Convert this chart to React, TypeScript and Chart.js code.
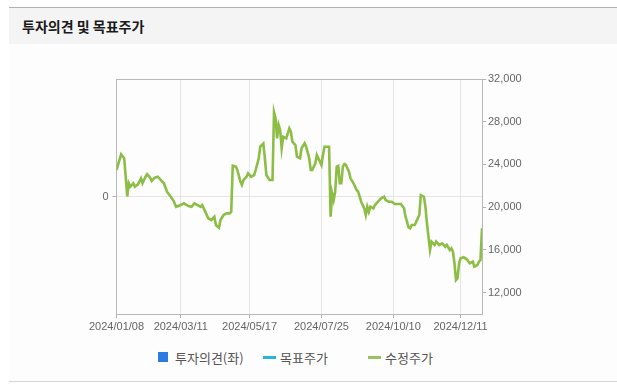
import React, { useEffect, useRef } from "react";
import { Chart, registerables } from "chart.js";

Chart.register(...registerables);

// trading-day index (0 = 2024/01/08, 239 = last trading day of 2024)
const dayIndex = [
  0, 3, 5, 6, 7, 8, 9, 11, 12, 14, 16, 17, 19, 20, 22, 23, 25, 27, 29, 31, 33, 35, 37, 39, 42, 44, 47, 49,
  51, 53, 55, 56, 58, 60, 62, 64, 65, 67, 68, 70, 72, 74, 75, 76, 78, 79, 81, 82, 83, 85, 86, 88, 90, 91,
  93, 94, 96, 97, 98, 100, 102, 103, 104, 105, 106, 107, 108, 109, 111, 113, 114, 115, 117, 118, 120,
  121, 123, 124, 126, 127, 128, 130, 131, 133, 134, 135, 136, 139, 140, 141, 142, 143, 144, 145, 146,
  147, 148, 149, 150, 152, 153, 155, 157, 158, 159, 160, 162, 163, 164, 165, 166, 168, 169, 171, 173,
  175, 176, 178, 180, 182, 184, 186, 188, 189, 191, 192, 193, 195, 196, 197, 198, 199, 201, 202, 203,
  204, 205, 206, 208, 209, 211, 213, 215, 216, 218, 219, 220, 221, 222, 223, 224, 225, 227, 229, 231,
  233, 234, 236, 237, 238, 239,
];

// 수정주가 (adjusted price, KRW)
const adjPrice = [
  23500, 24950, 24580, 22850, 21000, 22240, 21920, 22240, 21920, 22140, 22700, 22240, 22850, 23080, 22760,
  22450, 22760, 22850, 22540, 22240, 21450, 21080, 20670, 20040, 20200, 20360, 20100, 20040, 20360, 20200,
  20040, 20200, 19580, 18960, 18800, 19110, 18330, 18080, 18800, 19270, 19420, 19420, 19580, 23890, 23800,
  23480, 22390, 22080, 22540, 22850, 23170, 22850, 23010, 23480, 24580, 25660, 25950, 24580, 23010, 22540,
  22540, 28880, 28320, 26450, 27700, 27230, 25510, 26600, 26450, 27380, 27070, 26130, 25820, 24730, 24580,
  25510, 25980, 25660, 24580, 23480, 23480, 24110, 24890, 24260, 23950, 24890, 25660, 25660, 19110, 21300,
  20670, 21450, 23790, 23860, 22240, 22240, 23790, 24040, 23950, 23320, 22700, 22240, 21610, 21450, 20980,
  20510, 19890, 19270, 20050, 19580, 20050, 19890, 20200, 20510, 20830, 20980, 20670, 20510, 20510, 20300,
  20300, 20300, 19890, 19110, 18100, 18020, 18330, 18330, 18640, 18960, 19270, 21140, 20980, 20050, 18490,
  17240, 15990, 16770, 16460, 16770, 16460, 16620, 16300, 16460, 15990, 16150, 15830, 14750, 13180, 13340,
  14750, 15210, 15310, 15120, 14750, 14900, 14430, 14590, 14900, 15060, 18020,
];

// 투자의견 / 목표주가 : no values in this period
const opinion: number[] = [];
const targetPrice: number[] = [];

const xTickDays = [0, 42, 87, 134, 181, 225];
const xTickLabels = ["2024/01/08", "2024/03/11", "2024/05/17", "2024/07/25", "2024/10/10", "2024/12/11"];
const priceTicks = [12000, 16000, 20000, 24000, 28000, 32000];
const opinionTicks = [0];

const legendItems = [
  { label: "투자의견(좌)", color: "#2b7be0", kind: "box", left: 158 },
  { label: "목표주가", color: "#27b5d8", kind: "line", left: 263 },
  { label: "수정주가", color: "#9cc064", kind: "line", left: 368 },
];

const FONT = "'Liberation Sans', Arial, sans-serif";
const KFONT = "'Noto Sans CJK KR', 'Noto Sans', sans-serif";

const frame = {
  id: "frameTop",
  afterDraw(chart: any) {
    const { ctx, chartArea } = chart;
    ctx.save();
    ctx.strokeStyle = "#b8b8b8";
    ctx.lineWidth = 1;
    ctx.beginPath();
    ctx.moveTo(chartArea.left, Math.round(chartArea.top) + 0.5);
    ctx.lineTo(chartArea.right, Math.round(chartArea.top) + 0.5);
    ctx.stroke();
    ctx.restore();
  },
};

export default function App() {
  const ref = useRef<HTMLCanvasElement>(null);

  useEffect(() => {
    if (!ref.current) return;
    const chart = new Chart(ref.current, {
      data: {
        datasets: [
          {
            type: "bar",
            label: "투자의견(좌)",
            data: opinion,
            backgroundColor: "#2b7be0",
            yAxisID: "y",
          },
          {
            type: "line",
            label: "목표주가",
            data: targetPrice,
            borderColor: "#27b5d8",
            yAxisID: "y1",
          },
          {
            type: "line",
            label: "수정주가",
            data: dayIndex.map((d, i) => ({ x: d, y: adjPrice[i] })),
            borderColor: "#8cbd44",
            borderWidth: 2.6,
            pointRadius: 0,
            tension: 0,
            yAxisID: "y1",
          },
        ],
      } as any,
      options: {
        responsive: false,
        animation: false,
        devicePixelRatio: 1,
        layout: { padding: { top: 35, left: 0, right: 0, bottom: 0 } },
        plugins: { legend: { display: false }, tooltip: { enabled: false } },
        scales: {
          x: {
            type: "linear",
            position: "bottom",
            offset: false,
            min: 0,
            max: 239,
            afterBuildTicks: (s: any) => {
              s.ticks = xTickDays.map((v) => ({ value: v }));
            },
            afterFit: (s: any) => {
              s.height = 30;
            },
            ticks: {
              autoSkip: false,
              maxRotation: 0,
              padding: 2,
              color: "#666",
              font: { family: FONT, size: 11 },
              callback: (v: any) => {
                const i = xTickDays.indexOf(Number(v));
                return i >= 0 ? xTickLabels[i] : "";
              },
            },
            grid: { offset: false, color: "#e6e6e6", tickColor: "#b0b0b0", tickLength: 4 },
            border: { color: "#b8b8b8" },
          },
          y: {
            type: "linear",
            position: "left",
            min: -1,
            max: 1,
            afterBuildTicks: (s: any) => {
              s.ticks = opinionTicks.map((v) => ({ value: v }));
            },
            afterFit: (s: any) => {
              s.width = 25;
            },
            ticks: { padding: 4, color: "#666", font: { family: FONT, size: 11 } },
            grid: { color: "#e6e6e6", tickColor: "#b0b0b0", tickLength: 4 },
            border: { color: "#b8b8b8" },
          },
          y1: {
            type: "linear",
            position: "right",
            min: 10000,
            max: 32000,
            afterBuildTicks: (s: any) => {
              s.ticks = priceTicks.map((v) => ({ value: v }));
            },
            afterFit: (s: any) => {
              s.width = 135;
            },
            ticks: {
              padding: 2,
              color: "#666",
              font: { family: FONT, size: 11 },
              callback: (v: any) => Number(v).toLocaleString("en-US"),
            },
            grid: { drawOnChartArea: false, tickColor: "#b0b0b0", tickLength: 4 },
            border: { color: "#b8b8b8" },
          },
        },
      } as any,
      plugins: [frame],
    });
    return () => chart.destroy();
  }, []);

  return (
    <div style={{ position: "absolute", left: 0, top: 0, width: 617, height: 388, background: "#fff" }}>
      <div style={{ position: "absolute", left: 9, top: 7, width: 608, height: 1, background: "#b0b0b0" }} />
      <div style={{ position: "absolute", left: 9, top: 8, width: 608, height: 36, background: "#f4f4f4" }} />
      <div
        style={{
          position: "absolute",
          left: 22,
          top: 8,
          height: 36,
          lineHeight: "36px",
          fontFamily: KFONT,
          fontWeight: 700,
          fontSize: 14,
          color: "#1a1a1a",
        }}
      >
        투자의견 및 목표주가
      </div>
      <div style={{ position: "absolute", left: 9, top: 44, width: 608, height: 338, background: "#fdfdfd" }} />
      <canvas
        ref={ref}
        width={530}
        height={300}
        style={{ position: "absolute", left: 87, top: 44, width: 530, height: 300 }}
      />
      {legendItems.map((it) => (
        <div
          key={it.label}
          style={{
            position: "absolute",
            left: it.left,
            top: 347,
            height: 20,
            display: "flex",
            alignItems: "center",
            fontFamily: KFONT,
            fontSize: 13,
            color: "#555",
            whiteSpace: "nowrap",
          }}
        >
          {it.kind === "box" ? (
            <span style={{ display: "inline-block", width: 10, height: 10, background: it.color, marginRight: 7 }} />
          ) : (
            <span style={{ display: "inline-block", width: 13, height: 3, background: it.color, marginRight: 4 }} />
          )}
          <span>{it.label}</span>
        </div>
      ))}
      <div style={{ position: "absolute", left: 9, top: 381, width: 608, height: 1, background: "#d6d6d6" }} />
    </div>
  );
}
